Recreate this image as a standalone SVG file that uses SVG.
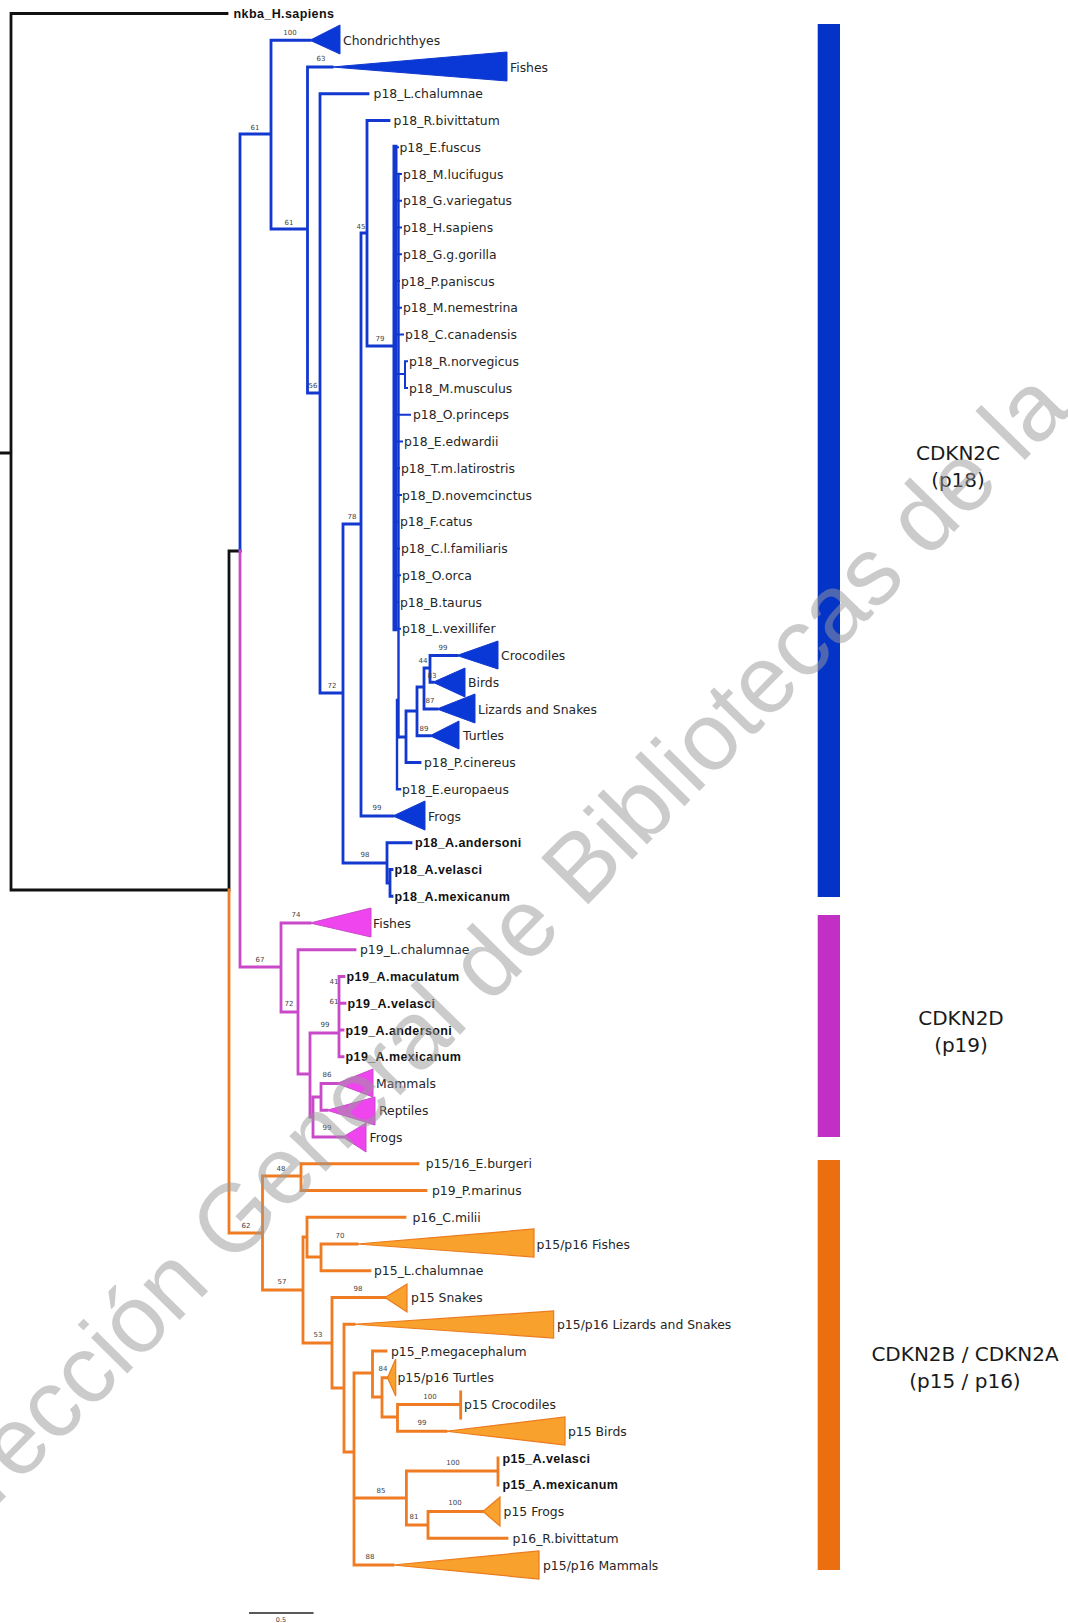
<svg xmlns="http://www.w3.org/2000/svg" width="1068" height="1623" viewBox="0 0 1068 1623">
<style>
.br{fill:none;stroke-width:2.8;stroke-linecap:square;stroke-linejoin:miter}
.k{stroke:#111}
.b{stroke:#1238cf}
.m{stroke:#c94ac9}
.o{stroke:#ef7b22}
.tb{fill:#0a38d6;stroke:#1238cf;stroke-width:1}
.tm{fill:#ee45ee;stroke:#c94ac9;stroke-width:1}
.to{fill:#f8a12c;stroke:#ec7a1e;stroke-width:1.2}
.lbl{font-family:"DejaVu Sans",sans-serif;font-size:12.4px;fill:#262626}
.bold{font-family:"Liberation Sans",Arial,sans-serif;font-weight:bold;font-size:12.5px;letter-spacing:0.4px;fill:#111}
.bs{font-family:"DejaVu Sans",sans-serif;font-size:7px;fill:#444;text-anchor:middle}
.grp{font-family:"DejaVu Sans",sans-serif;font-size:20px;fill:#1a1a1a;text-anchor:middle}
</style>
<rect width="1068" height="1623" fill="#fff"/>

<g id="connectors">
  <path class="br k" d="M0 453 H11 M11 13.5 V890 M11 13.5 H227 M11 890 H229 M229 551 V890 M229 551 H240"/>
  <path class="br b" d="M240 551 V134 H271 M271 40.25 V229 M271 40.25 H310 M271 229 H307.5 M307.5 67 V393 M307.5 67 H332 M307.5 393 H320 M320 93.75 V693 M320 93.75 H368 M320 693 H343 M343 524 V863 M343 524 H361 M343 863 H387 M387 842.75 V883 M387 842.75 H411 M387 883 H390 M390 869.5 V896.25 M390 869.5 H392 M390 896.25 H392 M361 233 V816 M361 233 H367 M361 816 H393 M367 120.5 V346 M367 120.5 H389 M367 346 H394"/>
  <path class="br b" style="stroke-width:5" d="M395 147.25 V628.75"/>
  <path class="br b" style="stroke-width:2.4" d="M398.5 174 V737 M397 700 V789.25 M397 789.25 H400"/>
  <path class="br b" style="stroke-width:2" d="M394 147.25 H398 M394 174 H401 M394 200.75 H401 M394 227.5 H401 M394 254.25 H401 M394 281 H399 M394 307.75 H401 M394 334.5 H403 M398 374 H405 M405 361.25 V388 M405 361.25 H407 M405 388 H407 M398 414.75 H410 M394 441.5 H402 M394 468.25 H399 M394 495 H401 M394 521.75 H398 M394 548.5 H399 M394 575.25 H400 M394 602 H398 M394 628.75 H400"/>
  <path class="br b" d="M398.5 737 H406 M406 711 V762.5 M406 762.5 H420 M406 711 H417 M417 687 V735.75 M417 735.75 H430 M417 687 H424 M424 668 V709 M424 709 H437 M424 668 H430 M430 655.5 V682.25 M430 655.5 H457 M430 682.25 H433"/>
  <path class="br m" d="M240 551 V967 H281 M281 923 V1012 M281 923 H310 M281 1012 H298 M298 949.75 V1074 M298 949.75 H355 M298 1074 H310 M310 1033 V1117 M310 1033 H339 M339 976.5 V1056.75 M339 976.5 H344 M339 1003.25 H345 M339 1030 H343 M339 1056.75 H343 M310 1117 H313 M313 1097 V1137 M313 1097 H321 M321 1083.5 V1110.25 M321 1083.5 H337 M321 1110.25 H327 M313 1137 H343"/>
  <path class="br o" d="M229 890 V1233 H262.5 M262.5 1176 V1290 M262.5 1176 H301 M301 1163.75 V1190.5 M301 1163.75 H418 M301 1190.5 H426 M262.5 1290 H303 M303 1237 V1343 M303 1237 H307 M307 1217.25 V1257 M307 1217.25 H405 M307 1257 H321 M321 1244 V1270.75 M321 1244 H357 M321 1270.75 H370 M303 1343 H332 M332 1297.5 V1388 M332 1297.5 H385 M332 1388 H344 M344 1324.25 V1452 M344 1324.25 H354 M344 1452 H354 M354 1373 V1565 M354 1373 H372.5 M372.5 1351 V1397 M372.5 1351 H386 M372.5 1397 H382 M382 1377.75 V1417 M382 1377.75 H387.5 M382 1417 H397.5 M397.5 1404.5 V1431.25 M397.5 1404.5 H460.7 M460.7 1392 V1418 M397.5 1431.25 H446 M354 1498 H406.4 M406.4 1471 V1525 M406.4 1471 H498 M498 1458 V1485 M406.4 1525 H428 M428 1511.5 V1538.25 M428 1511.5 H483 M428 1538.25 H507 M354 1565 H393"/>
  <path d="M249 1613 H313.6" stroke="#222" stroke-width="1.6" fill="none"/>
</g>

<g id="support">
  <text class="bs" x="290" y="35">100</text>
  <text class="bs" x="321" y="61">63</text>
  <text class="bs" x="255" y="130">61</text>
  <text class="bs" x="289" y="225">61</text>
  <text class="bs" x="361" y="229">45</text>
  <text class="bs" x="313" y="388">56</text>
  <text class="bs" x="380" y="341">79</text>
  <text class="bs" x="352" y="519">78</text>
  <text class="bs" x="332" y="688">72</text>
  <text class="bs" x="443" y="650">99</text>
  <text class="bs" x="423" y="663">44</text>
  <text class="bs" x="432" y="678">83</text>
  <text class="bs" x="430" y="703">87</text>
  <text class="bs" x="424" y="731">89</text>
  <text class="bs" x="377" y="810">99</text>
  <text class="bs" x="365" y="857">98</text>
  <text class="bs" x="296" y="917">74</text>
  <text class="bs" x="260" y="962">67</text>
  <text class="bs" x="289" y="1006">72</text>
  <text class="bs" x="334" y="984">41</text>
  <text class="bs" x="334" y="1004">61</text>
  <text class="bs" x="325" y="1027">99</text>
  <text class="bs" x="327" y="1077">86</text>
  <text class="bs" x="327" y="1130">99</text>
  <text class="bs" x="281" y="1171">48</text>
  <text class="bs" x="246" y="1228">62</text>
  <text class="bs" x="340" y="1238">70</text>
  <text class="bs" x="282" y="1284">57</text>
  <text class="bs" x="358" y="1291">98</text>
  <text class="bs" x="318" y="1337">53</text>
  <text class="bs" x="383" y="1371">84</text>
  <text class="bs" x="430" y="1399">100</text>
  <text class="bs" x="422" y="1425">99</text>
  <text class="bs" x="453" y="1465">100</text>
  <text class="bs" x="381" y="1493">85</text>
  <text class="bs" x="455" y="1505">100</text>
  <text class="bs" x="414" y="1519">81</text>
  <text class="bs" x="370" y="1559">88</text>
  <text class="bs" x="281" y="1622" style="font-size:6.5px">0.5</text>
</g>

<g id="leaf-nkba"><text class="bold" x="233.5" y="18">nkba_H.sapiens</text></g>
<g id="clade-chondrichthyes"><polygon class="tb" points="310,40.25 340,25 340,54"/><text class="lbl" x="343" y="44.75">Chondrichthyes</text></g>
<g id="clade-fishes-p18"><polygon class="tb" points="332,67 507,52 507,81"/><text class="lbl" x="510" y="71.5">Fishes</text></g>
<g id="leaf-p18-lchalumnae"><text class="lbl" x="373.6" y="98.25">p18_L.chalumnae</text></g>
<g id="leaf-p18-rbivittatum"><text class="lbl" x="393.6" y="125">p18_R.bivittatum</text></g>
<g id="leaf-p18-efuscus"><text class="lbl" x="399.5" y="151.75">p18_E.fuscus</text></g>
<g id="leaf-p18-mlucifugus"><text class="lbl" x="403" y="178.5">p18_M.lucifugus</text></g>
<g id="leaf-p18-gvariegatus"><text class="lbl" x="403" y="205.25">p18_G.variegatus</text></g>
<g id="leaf-p18-hsapiens"><text class="lbl" x="403" y="232">p18_H.sapiens</text></g>
<g id="leaf-p18-ggorilla"><text class="lbl" x="403" y="258.75">p18_G.g.gorilla</text></g>
<g id="leaf-p18-ppaniscus"><text class="lbl" x="401" y="285.5">p18_P.paniscus</text></g>
<g id="leaf-p18-mnemestrina"><text class="lbl" x="403" y="312.25">p18_M.nemestrina</text></g>
<g id="leaf-p18-ccanadensis"><text class="lbl" x="405" y="339">p18_C.canadensis</text></g>
<g id="leaf-p18-rnorvegicus"><text class="lbl" x="409" y="365.75">p18_R.norvegicus</text></g>
<g id="leaf-p18-mmusculus"><text class="lbl" x="409" y="392.5">p18_M.musculus</text></g>
<g id="leaf-p18-oprinceps"><text class="lbl" x="413" y="419.25">p18_O.princeps</text></g>
<g id="leaf-p18-eedwardii"><text class="lbl" x="404" y="446">p18_E.edwardii</text></g>
<g id="leaf-p18-tmlatirostris"><text class="lbl" x="401" y="472.75">p18_T.m.latirostris</text></g>
<g id="leaf-p18-dnovemcinctus"><text class="lbl" x="402" y="499.5">p18_D.novemcinctus</text></g>
<g id="leaf-p18-fcatus"><text class="lbl" x="400" y="526.25">p18_F.catus</text></g>
<g id="leaf-p18-clfamiliaris"><text class="lbl" x="401" y="553">p18_C.l.familiaris</text></g>
<g id="leaf-p18-oorca"><text class="lbl" x="402" y="579.75">p18_O.orca</text></g>
<g id="leaf-p18-btaurus"><text class="lbl" x="400" y="606.5">p18_B.taurus</text></g>
<g id="leaf-p18-lvexillifer"><text class="lbl" x="402" y="633.25">p18_L.vexillifer</text></g>
<g id="clade-crocodiles-p18"><polygon class="tb" points="457,655.5 498,641 498,669"/><text class="lbl" x="501" y="660">Crocodiles</text></g>
<g id="clade-birds-p18"><polygon class="tb" points="433,682.25 465,668 465,697"/><text class="lbl" x="468" y="686.75">Birds</text></g>
<g id="clade-lizards-p18"><polygon class="tb" points="437,709 475,694 475,723"/><text class="lbl" x="478" y="713.5">Lizards and Snakes</text></g>
<g id="clade-turtles-p18"><polygon class="tb" points="430,735.75 459,721 459,749"/><text class="lbl" x="463" y="740.25">Turtles</text></g>
<g id="leaf-p18-pcinereus"><text class="lbl" x="424" y="767">p18_P.cinereus</text></g>
<g id="leaf-p18-eeuropaeus"><text class="lbl" x="402" y="793.75">p18_E.europaeus</text></g>
<g id="clade-frogs-p18"><polygon class="tb" points="393,816 425,801 425,830"/><text class="lbl" x="428" y="820.5">Frogs</text></g>
<g id="leaf-p18-aandersoni"><text class="bold" x="415" y="847.25">p18_A.andersoni</text></g>
<g id="leaf-p18-avelasci"><text class="bold" x="394.5" y="874">p18_A.velasci</text></g>
<g id="leaf-p18-amexicanum"><text class="bold" x="394.5" y="900.75">p18_A.mexicanum</text></g>

<g id="clade-fishes-p19"><polygon class="tm" points="310,923 371,908 371,937"/><text class="lbl" x="373" y="927.5">Fishes</text></g>
<g id="leaf-p19-lchalumnae"><text class="lbl" x="360" y="954.25">p19_L.chalumnae</text></g>
<g id="leaf-p19-amaculatum"><text class="bold" x="346.5" y="981">p19_A.maculatum</text></g>
<g id="leaf-p19-avelasci"><text class="bold" x="347.5" y="1007.75">p19_A.velasci</text></g>
<g id="leaf-p19-aandersoni"><text class="bold" x="345.5" y="1034.5">p19_A.andersoni</text></g>
<g id="leaf-p19-amexicanum"><text class="bold" x="345.5" y="1061.25">p19_A.mexicanum</text></g>
<g id="clade-mammals-p19"><polygon class="tm" points="337,1083.5 373,1069 373,1097"/><text class="lbl" x="376" y="1088">Mammals</text></g>
<g id="clade-reptiles-p19"><polygon class="tm" points="327,1110.25 375,1097 375,1125"/><text class="lbl" x="379" y="1114.75">Reptiles</text></g>
<g id="clade-frogs-p19"><polygon class="tm" points="343,1137 366,1123 366,1152"/><text class="lbl" x="369.5" y="1141.5">Frogs</text></g>

<g id="leaf-p1516-eburgeri"><text class="lbl" x="425.7" y="1168.25">p15/16_E.burgeri</text></g>
<g id="leaf-p19-pmarinus"><text class="lbl" x="432" y="1195">p19_P.marinus</text></g>
<g id="leaf-p16-cmilii"><text class="lbl" x="412.5" y="1221.75">p16_C.milii</text></g>
<g id="clade-fishes-p1516"><polygon class="to" points="357,1244 534,1229 534,1257"/><text class="lbl" x="536.5" y="1248.5">p15/p16 Fishes</text></g>
<g id="leaf-p15-lchalumnae"><text class="lbl" x="374" y="1275.25">p15_L.chalumnae</text></g>
<g id="clade-snakes-p15"><polygon class="to" points="385,1297.5 407,1284 407,1312"/><text class="lbl" x="411" y="1302">p15 Snakes</text></g>
<g id="clade-lizards-p1516"><polygon class="to" points="354,1324.25 553.6,1311 553.6,1338"/><text class="lbl" x="557" y="1328.75">p15/p16 Lizards and Snakes</text></g>
<g id="leaf-p15-pmegacephalum"><text class="lbl" x="391" y="1355.5">p15_P.megacephalum</text></g>
<g id="clade-turtles-p1516"><polygon class="to" points="387.5,1377.75 395.7,1359 395.7,1396"/><text class="lbl" x="397.5" y="1382.25">p15/p16 Turtles</text></g>
<g id="clade-crocodiles-p15"><text class="lbl" x="464" y="1409">p15 Crocodiles</text></g>
<g id="clade-birds-p15"><polygon class="to" points="446,1431.25 565,1417 565,1445"/><text class="lbl" x="568" y="1435.75">p15 Birds</text></g>
<g id="leaf-p15-avelasci"><text class="bold" x="502.5" y="1462.5">p15_A.velasci</text></g>
<g id="leaf-p15-amexicanum"><text class="bold" x="502.5" y="1489.25">p15_A.mexicanum</text></g>
<g id="clade-frogs-p15"><polygon class="to" points="483,1511.5 500,1497 500,1526"/><text class="lbl" x="503.6" y="1516">p15 Frogs</text></g>
<g id="leaf-p16-rbivittatum"><text class="lbl" x="512.5" y="1542.75">p16_R.bivittatum</text></g>
<g id="clade-mammals-p1516"><polygon class="to" points="393,1565 539,1551 539,1579"/><text class="lbl" x="543" y="1569.5">p15/p16 Mammals</text></g>

<g id="group-cdkn2c"><rect x="817.7" y="24" width="22.3" height="873" fill="#0433c8"/><text class="grp" x="958" y="460.3">CDKN2C</text><text class="grp" x="958" y="487">(p18)</text></g>
<g id="group-cdkn2d"><rect x="817.7" y="915" width="22.3" height="222" fill="#c22fc5"/><text class="grp" x="961" y="1025.3">CDKN2D</text><text class="grp" x="961" y="1052">(p19)</text></g>
<g id="group-cdkn2b"><rect x="817.7" y="1160" width="22.3" height="410" fill="#ec6f0f"/><text class="grp" x="965" y="1360.8">CDKN2B / CDKN2A</text><text class="grp" x="965" y="1388">(p15 / p16)</text></g>

<g id="watermark" opacity="0.5"><text x="-68" y="1572" transform="rotate(-45.5 -68 1572)" font-family="Liberation Sans, Arial, sans-serif" font-size="96" fill="#999">Dirección General de Bibliotecas de la</text></g>
</svg>
